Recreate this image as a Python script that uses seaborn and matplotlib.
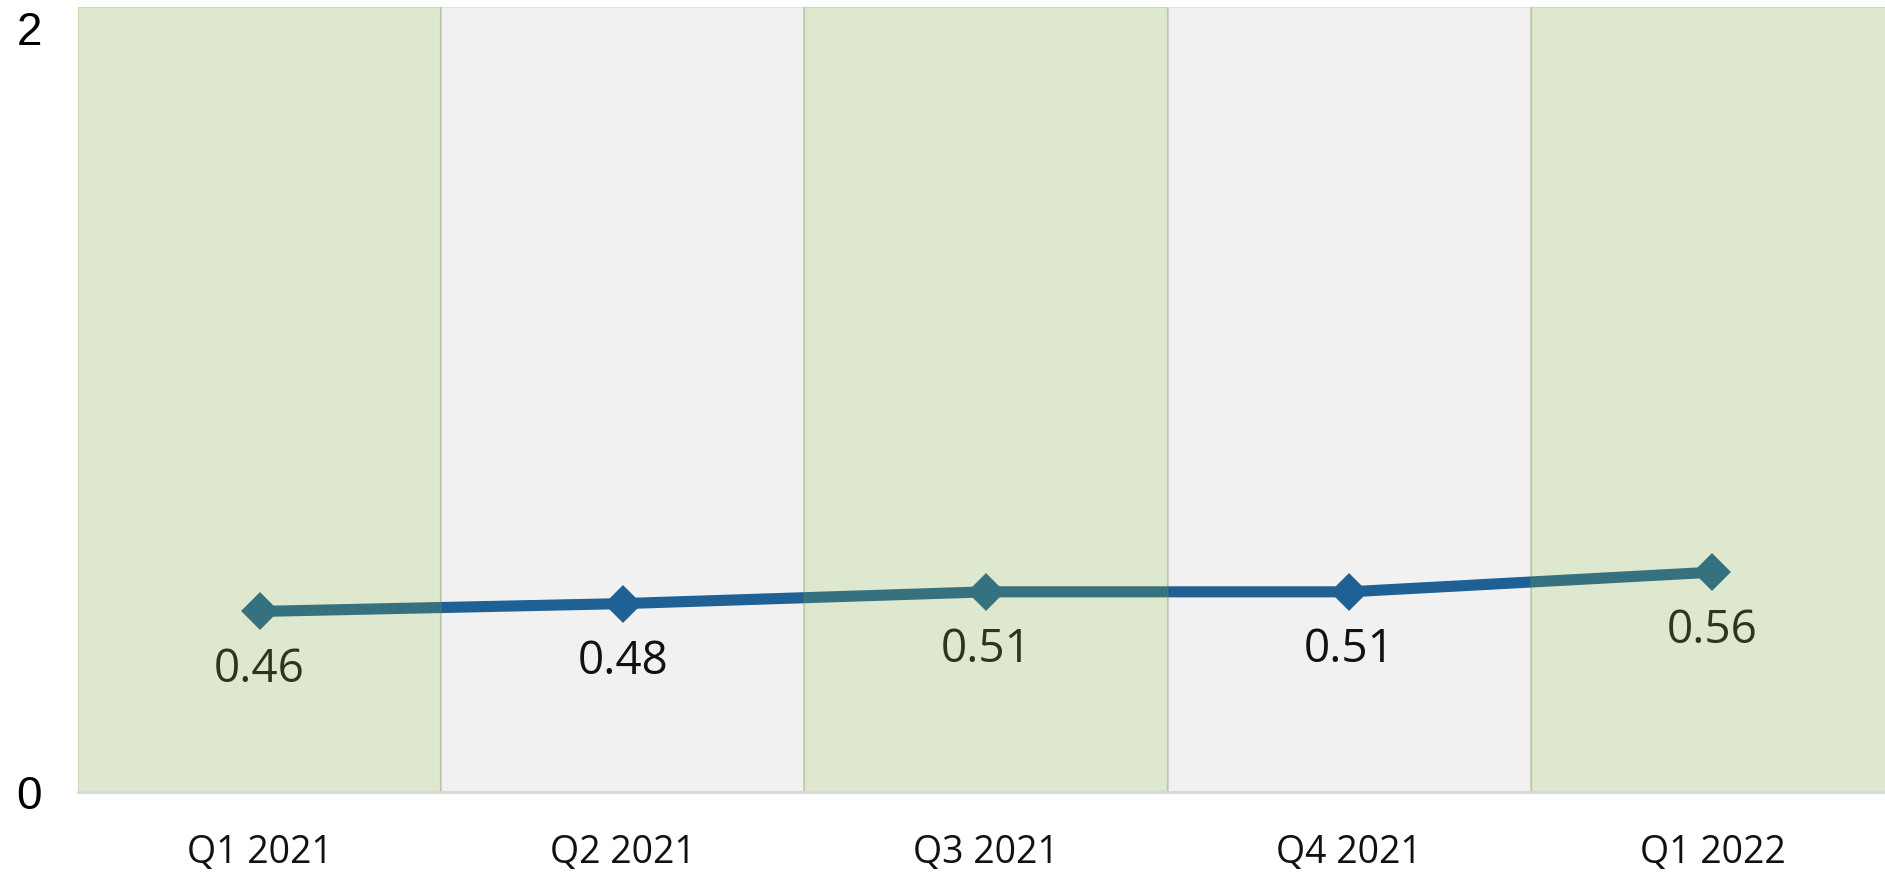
import matplotlib
matplotlib.use("Agg")
import matplotlib.pyplot as plt
import matplotlib.transforms as mtransforms
import seaborn as sns
import pandas as pd

categories = ["Q1 2021", "Q2 2021", "Q3 2021", "Q4 2021", "Q1 2022"]
values = [0.46, 0.48, 0.51, 0.51, 0.56]
value_labels = ["0.46", "0.48", "0.51", "0.51", "0.56"]
y_ticks = [0, 2]
y_tick_labels = ["0", "2"]

sns.set_theme(style="white")
plt.rcParams["font.family"] = ["Open Sans", "DejaVu Sans"]

W, H = 1885, 873
fig = plt.figure(figsize=(W / 100, H / 100), dpi=100)
left, right, top, bottom = 78, 1894, 7, 792
ax = fig.add_axes([left / W, (H - bottom) / H, (right - left) / W, (bottom - top) / H])

df = pd.DataFrame({"cat": categories, "val": values})
df["x"] = range(len(categories))

line_color = "#1f6095"
green_face = (122 / 255, 165 / 255, 63 / 255, 0.255)
green_edge = (110 / 255, 150 / 255, 60 / 255, 0.18)

# bands
for i in range(len(categories)):
    if i % 2 == 0:
        ax.axvspan(i - 0.5, i + 0.5, facecolor=green_face, edgecolor=green_edge,
                   linewidth=1.5, zorder=5)
    else:
        ax.axvspan(i - 0.5, i + 0.5, facecolor="#f1f1f1", edgecolor="#e2e2e2",
                   linewidth=1.5, zorder=0)

sns.lineplot(data=df, x="x", y="val", ax=ax, color=line_color, linewidth=8,
             marker="D", markersize=16, markeredgewidth=3, markeredgecolor=line_color,
             zorder=3, solid_joinstyle="round")
for ln in ax.lines:
    ln.set_markeredgecolor(line_color)

for i, (v, lab) in enumerate(zip(values, value_labels)):
    ax.annotate(lab, (i, v), xytext=(0, -42), textcoords="offset points",
                ha="center", va="center", fontsize=33, color="#111111", zorder=4,
                family=["Open Sans", "DejaVu Sans"])

ax.set_xlim(-0.5, len(categories) - 0.5)
ax.set_ylim(0, 2)
ax.set_xticks(range(len(categories)))
ax.set_xticklabels(categories, fontsize=27, color="#111111")
ax.set_yticks(y_ticks)
ax.set_yticklabels(y_tick_labels, fontsize=33, color="#000000",
                   family=["Liberation Sans", "DejaVu Sans"])
ax.tick_params(axis="x", length=0, pad=30)
ax.tick_params(axis="y", length=0, pad=26)
for lbl in ax.get_yticklabels():
    if lbl.get_text() == "2":
        lbl.set_verticalalignment("top")
        lbl.set_transform(lbl.get_transform() +
                          mtransforms.ScaledTranslation(0, -3 / 72, fig.dpi_scale_trans))

ax.set_xlabel("")
ax.set_ylabel("")
for s in ["top", "right", "left"]:
    ax.spines[s].set_visible(False)
ax.spines["bottom"].set_color("#d9d9d9")
ax.spines["bottom"].set_linewidth(2)
ax.spines["bottom"].set_zorder(6)
ax.grid(False)
ax.set_facecolor("white")

fig.savefig("out.png", dpi=100)
